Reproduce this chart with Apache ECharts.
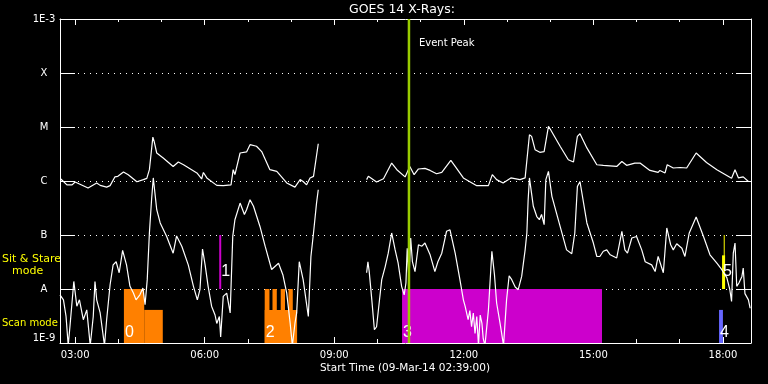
<!DOCTYPE html>
<html><head><meta charset="utf-8">
<script src="https://cdn.jsdelivr.net/npm/echarts@6/dist/echarts.min.js"></script>
<style>html,body{margin:0;padding:0;background:#000}#c{width:768px;height:384px}</style>
</head><body><div id="c"></div>
<script>
// time axis in decimal hours (09-Mar-14), start 02:39
const tStart = 2.65, tEnd = 18.65;
const majorTicks = [3, 6, 9, 12, 15, 18];
const tickLabels = ['03:00', '06:00', '09:00', '12:00', '15:00', '18:00'];
const minorTicks = [4, 5, 7, 8, 10, 11, 13, 14, 16, 17];
const yLabels = ['1E-9', 'A', 'B', 'C', 'M', 'X', '1E-3'];
const eventPeak = 10.73;

// long channel (upper curve), two segments
const longA = [[2.67,1.09e-6],[2.81,8.5e-7],[2.93,8.5e-7],[3.00,9.6e-7],[3.30,7.4e-7],[3.50,9.2e-7],[3.58,8.3e-7],[3.73,7.7e-7],[3.81,8.2e-7],[3.92,1.19e-6],[3.99,1.22e-6],[4.12,1.47e-6],[4.23,1.31e-6],[4.43,9.7e-7],[4.58,1.06e-6],[4.66,1.12e-6],[4.72,1.62e-6],[4.80,6.5e-6],[4.83,5.4e-6],[4.89,3.3e-6],[5.04,2.67e-6],[5.27,1.86e-6],[5.39,2.25e-6],[5.51,2.0e-6],[5.82,1.41e-6],[5.93,1.09e-6],[5.97,1.44e-6],[6.05,1.14e-6],[6.28,8.3e-7],[6.43,8.2e-7],[6.61,8.5e-7],[6.66,1.62e-6],[6.70,1.31e-6],[6.82,3.3e-6],[6.97,3.45e-6],[7.05,4.7e-6],[7.20,4.4e-6],[7.32,3.5e-6],[7.51,1.62e-6],[7.67,1.51e-6],[7.90,9.2e-7],[8.09,7.7e-7],[8.21,1.06e-6],[8.28,9.8e-7],[8.36,8.5e-7],[8.44,1.14e-6],[8.52,1.22e-6],[8.63,4.9e-6]];
const longB = [[9.75,1.06e-6],[9.79,1.22e-6],[9.98,9.6e-7],[10.14,1.1e-6],[10.33,2.15e-6],[10.45,1.62e-6],[10.64,1.19e-6],[10.75,1.86e-6],[10.85,1.31e-6],[10.95,1.67e-6],[11.10,1.71e-6],[11.22,1.57e-6],[11.37,1.36e-6],[11.49,1.44e-6],[11.70,2.4e-6],[11.80,1.86e-6],[11.99,1.14e-6],[12.30,8.2e-7],[12.57,8.2e-7],[12.66,1.31e-6],[12.76,1.06e-6],[12.91,9.2e-7],[13.09,1.14e-6],[13.30,1.06e-6],[13.42,1.14e-6],[13.52,7.2e-6],[13.57,6.7e-6],[13.65,3.8e-6],[13.76,3.4e-6],[13.86,3.5e-6],[13.96,1.03e-5],[14.01,8.9e-6],[14.23,4.4e-6],[14.42,2.48e-6],[14.54,2.25e-6],[14.63,6.7e-6],[14.69,7.5e-6],[14.85,4.1e-6],[15.08,2.0e-6],[15.23,1.95e-6],[15.54,1.86e-6],[15.66,2.3e-6],[15.77,1.95e-6],[15.96,2.14e-6],[16.08,2.15e-6],[16.31,1.57e-6],[16.50,1.44e-6],[16.54,1.57e-6],[16.66,1.41e-6],[16.71,2.0e-6],[16.85,1.74e-6],[17.01,1.78e-6],[17.16,1.74e-6],[17.38,3.3e-6],[17.62,2.2e-6],[17.86,1.62e-6],[18.20,1.12e-6],[18.28,1.62e-6],[18.36,1.14e-6],[18.47,1.19e-6],[18.59,9.8e-7]];

// short channel (lower curve), two segments
const shortA = [[2.65,7.8e-9],[2.73,6.3e-9],[2.79,3.1e-9],[2.84,9e-10],[2.88,2.0e-9],[2.97,1.38e-8],[3.04,4.8e-9],[3.10,6.3e-9],[3.19,2.7e-9],[3.27,4.1e-9],[3.35,9e-10],[3.42,3.1e-9],[3.46,1.38e-8],[3.50,6.3e-9],[3.58,3.6e-9],[3.68,9e-10],[3.73,2.7e-9],[3.81,1.2e-8],[3.88,2.8e-8],[3.95,3.2e-8],[4.02,2.0e-8],[4.10,5.2e-8],[4.19,2.8e-8],[4.27,1.12e-8],[4.35,8.4e-9],[4.41,6.3e-9],[4.50,7.8e-9],[4.57,1.04e-8],[4.62,5.1e-9],[4.67,1.49e-8],[4.72,1.09e-7],[4.77,4.5e-7],[4.81,1.14e-6],[4.89,2.94e-7],[4.97,1.67e-7],[5.12,9.4e-8],[5.27,4.6e-8],[5.35,9.6e-8],[5.47,6.2e-8],[5.62,2.8e-8],[5.74,1.12e-8],[5.83,6.3e-9],[5.89,9.7e-9],[5.95,5.5e-8],[6.01,2.8e-8],[6.08,1.12e-8],[6.16,4.8e-9],[6.24,3.3e-9],[6.28,2.3e-9],[6.34,3.1e-9],[6.37,1.3e-9],[6.43,7.3e-9],[6.51,8.4e-9],[6.59,3.6e-9],[6.65,9.4e-8],[6.70,1.92e-7],[6.82,3.9e-7],[6.92,2.4e-7],[6.97,2.94e-7],[7.05,4.5e-7],[7.13,3.4e-7],[7.28,1.44e-7],[7.40,6.2e-8],[7.55,2.3e-8],[7.71,3.0e-8],[7.81,1.84e-8],[7.90,8.4e-9],[7.98,2.3e-9],[8.03,9e-10],[8.09,2.3e-9],[8.13,3.6e-9],[8.19,3.2e-8],[8.28,1.49e-8],[8.40,3.1e-9],[8.46,4.0e-8],[8.52,1.09e-7],[8.59,3.9e-7],[8.63,6.9e-7]];
const shortB = [[9.75,2.0e-8],[9.78,3.2e-8],[9.81,2.1e-8],[9.87,6.3e-9],[9.93,1.76e-9],[9.98,2.0e-9],[10.04,5.5e-9],[10.10,1.49e-8],[10.18,2.6e-8],[10.25,4.6e-8],[10.33,1.09e-7],[10.41,5.3e-8],[10.48,3.0e-8],[10.56,1.12e-8],[10.62,7.8e-9],[10.66,1.29e-8],[10.69,5.7e-8],[10.73,1.49e-8],[10.77,8.8e-8],[10.81,3.2e-8],[10.87,2.1e-8],[10.95,6.6e-8],[11.03,6.2e-8],[11.10,7.1e-8],[11.22,4.3e-8],[11.33,2.1e-8],[11.40,3.2e-8],[11.49,4.6e-8],[11.60,1.17e-7],[11.68,1.25e-7],[11.80,4.6e-8],[11.91,1.49e-8],[11.99,6.3e-9],[12.03,4.8e-9],[12.10,2.7e-9],[12.14,4.0e-9],[12.18,2.0e-9],[12.22,3.6e-9],[12.26,1.5e-9],[12.30,3.1e-9],[12.34,9e-10],[12.38,3.3e-9],[12.42,2.3e-9],[12.45,1.2e-9],[12.49,9e-10],[12.57,4.1e-9],[12.65,5.0e-8],[12.71,1.84e-8],[12.76,5.5e-9],[12.84,2.3e-9],[12.92,9e-10],[12.99,6.3e-9],[13.05,1.76e-8],[13.11,1.49e-8],[13.19,1.09e-8],[13.26,9.7e-9],[13.34,1.71e-8],[13.42,5.3e-8],[13.46,1.09e-7],[13.49,4.5e-7],[13.52,1.14e-6],[13.61,3.4e-7],[13.69,2.2e-7],[13.75,1.92e-7],[13.80,2.4e-7],[13.86,1.55e-7],[13.90,1.06e-6],[13.96,1.51e-6],[14.04,5.2e-7],[14.23,1.44e-7],[14.38,5.3e-8],[14.50,4.5e-8],[14.57,1.09e-7],[14.63,7.9e-7],[14.69,9.8e-7],[14.85,1.67e-7],[15.00,7.1e-8],[15.08,4.0e-8],[15.15,4.0e-8],[15.23,5.0e-8],[15.31,5.3e-8],[15.39,4.3e-8],[15.54,3.75e-8],[15.66,1.17e-7],[15.73,5.3e-8],[15.79,4.6e-8],[15.89,8.8e-8],[16.00,9.4e-8],[16.12,5.3e-8],[16.20,3.2e-8],[16.35,2.8e-8],[16.43,2.1e-8],[16.50,4.0e-8],[16.62,2.0e-8],[16.70,1.35e-7],[16.79,6.6e-8],[16.85,5.3e-8],[16.93,6.9e-8],[17.05,5.7e-8],[17.12,4.0e-8],[17.22,1.09e-7],[17.38,2.15e-7],[17.55,9.4e-8],[17.70,4.3e-8],[17.86,3.0e-8],[17.97,2.3e-8],[18.09,1.62e-8],[18.16,9.7e-9],[18.20,5.9e-9],[18.24,4.6e-8],[18.28,7.1e-8],[18.32,1.12e-8],[18.37,1.29e-8],[18.44,1.71e-8],[18.47,2.45e-8],[18.51,8.2e-9],[18.59,6.3e-9],[18.63,4.4e-9]];

// observing-mode blocks: [start h, end h, bottom flux, top flux]
const orangeBlocks = [[4.13,4.60,1e-9,1e-8],[4.60,5.03,1e-9,4.1e-9],[7.39,8.14,1e-9,4.1e-9],[7.39,7.50,1e-9,1e-8],[7.57,7.67,1e-9,1e-8],[7.76,7.86,1e-9,1e-8],[7.94,8.04,1e-9,1e-8]];
const magentaBlocks = [[10.57,15.20,1e-9,1e-8]];
const blueBlocks = [[17.91,18.00,1e-9,4.1e-9]];
const yellowBlocks = [[17.98,18.05,1e-8,4.2e-8]];
// sit & stare markers: [time h, bottom flux, top flux]
const magentaMarks = [[6.36,1e-8,1e-7]];
const yellowMarks = [[18.03,1e-8,1e-7]];
// mode numbers: [text, time h, flux]
const modeLabels = [['0',4.13,1.55e-9],['1',6.36,2.1e-8],['2',7.39,1.55e-9],['3',10.57,1.55e-9],['4',17.91,1.55e-9],['5',17.98,2.1e-8]];

const FONT = '"DejaVu Sans", sans-serif';
const chart = echarts.init(document.getElementById('c'));

function xAx(pos, ticks, len, withLabels, line) {
  return {
    type: 'value', min: tStart, max: tEnd, position: pos,
    axisLine: { show: line, lineStyle: { color: '#fff', width: 1 } },
    axisTick: { show: true, inside: true, length: len, customValues: ticks, lineStyle: { color: '#fff', width: 1 } },
    axisLabel: withLabels ? {
      show: true, customValues: ticks, color: '#fff', fontSize: 10, fontFamily: FONT, margin: 7,
      formatter: v => tickLabels[majorTicks.indexOf(Math.round(v))] || ''
    } : { show: false },
    splitLine: { show: false }
  };
}
function yAx(pos, labels) {
  return {
    type: 'log', logBase: 10, min: 1e-9, max: 1e-3, position: pos, splitNumber: 6,
    axisLine: { show: true, lineStyle: { color: '#fff', width: 1 } },
    axisTick: { show: true, inside: true, length: 15, lineStyle: { color: '#fff', width: 1 } },
    minorTick: { show: false },
    axisLabel: labels ? {
      show: true, color: '#fff', fontSize: 10, fontFamily: FONT, margin: 16, align: 'center',
      verticalAlignMinLabel: 'bottom', verticalAlignMaxLabel: 'top',
      formatter: v => yLabels[Math.round(Math.log10(v)) + 9] || ''
    } : { show: false },
    splitLine: labels ? { show: true, lineStyle: { color: '#fff', width: 1, type: [1, 5] } } : { show: false }
  };
}

function blockSeries(data, color) {
  return {
    type: 'custom', xAxisIndex: 0, yAxisIndex: 0, z: 1, silent: true,
    data: data, encode: { x: [0, 1], y: [2, 3] },
    renderItem: (params, api) => {
      const p1 = api.coord([api.value(0), api.value(3)]);
      const p2 = api.coord([api.value(1), api.value(2)]);
      return { type: 'rect', shape: { x: p1[0], y: p1[1], width: p2[0] - p1[0], height: p2[1] - p1[1] }, style: { fill: color } };
    }
  };
}
function markSeries(data, color, w) {
  return {
    type: 'custom', xAxisIndex: 0, yAxisIndex: 0, z: 2, silent: true,
    data: data, encode: { x: 0, y: [1, 2] },
    renderItem: (params, api) => {
      const a = api.coord([api.value(0), api.value(1)]);
      const b = api.coord([api.value(0), api.value(2)]);
      return { type: 'line', shape: { x1: a[0], y1: a[1], x2: b[0], y2: b[1] }, style: { stroke: color, lineWidth: w } };
    }
  };
}
function lineSeries(data) {
  return {
    type: 'line', xAxisIndex: 0, yAxisIndex: 0, data: data, symbol: 'none', clip: true, z: 5,
    lineStyle: { color: '#fff', width: 1.2 }, silent: true
  };
}

chart.setOption({
  backgroundColor: '#000',
  animation: false,
  grid: { left: 60, right: 17, top: 19, bottom: 41 },
  xAxis: [
    xAx('bottom', majorTicks, 6, true, true),
    xAx('bottom', minorTicks, 4, false, false),
    xAx('top', majorTicks, 6, false, true),
    xAx('top', minorTicks, 3, false, false)
  ],
  yAxis: [yAx('left', true), yAx('right', false)],
  graphic: [
    { type: 'text', x: 402, y: 10, style: { text: 'GOES 14 X-Rays:', fill: '#fff', font: '12.5px ' + FONT, align: 'center', verticalAlign: 'middle' } },
    { type: 'text', x: 405, y: 368, style: { text: 'Start Time (09-Mar-14 02:39:00)', fill: '#fff', font: '10.5px ' + FONT, align: 'center', verticalAlign: 'middle' } },
    { type: 'text', x: 2, y: 259, style: { text: 'Sit & Stare', fill: '#ffff00', font: '11px ' + FONT, align: 'left', verticalAlign: 'middle' } },
    { type: 'text', x: 12, y: 271, style: { text: 'mode', fill: '#ffff00', font: '11px ' + FONT, align: 'left', verticalAlign: 'middle' } },
    { type: 'text', x: 2, y: 323, style: { text: 'Scan mode', fill: '#ffff00', font: '10px ' + FONT, align: 'left', verticalAlign: 'middle' } }
  ],
  series: [
    blockSeries(orangeBlocks, '#ff8000'),
    blockSeries(magentaBlocks, '#cc00cc'),
    blockSeries(blueBlocks, '#6666ff'),
    blockSeries(yellowBlocks, '#ffff00'),
    markSeries(magentaMarks, '#cc00cc', 2),
    markSeries(yellowMarks, '#ffff00', 1),
    lineSeries(longA), lineSeries(longB), lineSeries(shortA), lineSeries(shortB),
    {
      type: 'custom', xAxisIndex: 0, yAxisIndex: 0, z: 6, silent: true,
      data: modeLabels.map(d => [d[1], d[2], d[0]]), encode: { x: 0, y: 1 },
      renderItem: (params, api) => {
        const p = api.coord([api.value(0), api.value(1)]);
        return { type: 'text', x: p[0] + 1, y: p[1], style: { text: modeLabels[params.dataIndex][0], fill: '#fff', fontSize: 16, fontFamily: '"Liberation Sans", sans-serif', align: 'left', verticalAlign: 'middle' } };
      }
    },
    {
      type: 'custom', xAxisIndex: 0, yAxisIndex: 0, z: 7, silent: true,
      data: [[eventPeak]], encode: { x: 0 },
      renderItem: (params, api) => {
        const a = api.coord([api.value(0), 1e-9]);
        const b = api.coord([api.value(0), 1e-3]);
        return { type: 'group', children: [
          { type: 'line', shape: { x1: a[0], y1: a[1], x2: b[0], y2: b[1] }, style: { stroke: '#99cc00', lineWidth: 2.5 } },
          { type: 'text', x: b[0] + 10, y: b[1] + 24, style: { text: 'Event Peak', fill: '#fff', fontSize: 10, fontFamily: FONT, align: 'left', verticalAlign: 'middle' } }
        ] };
      }
    }
  ]
});
</script></body></html>
